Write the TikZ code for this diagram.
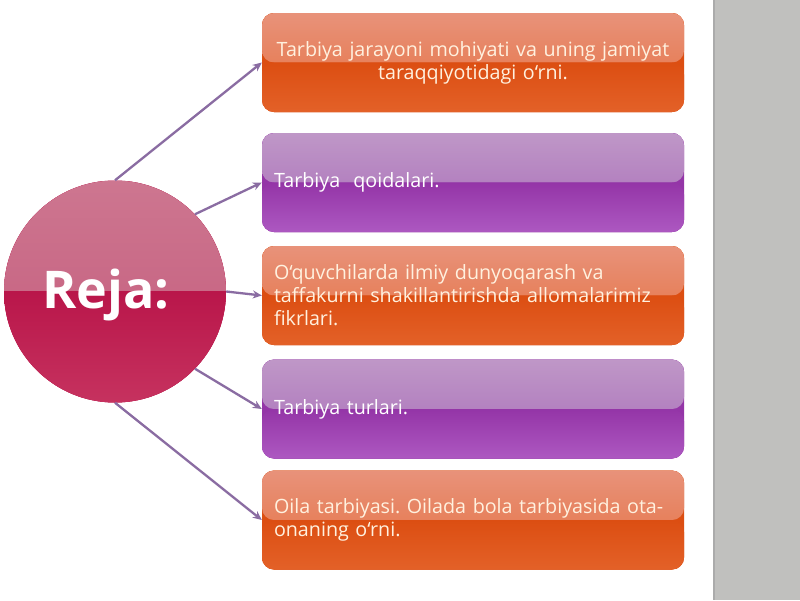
\documentclass[tikz,border=0pt]{standalone}
\usepackage{fontspec}
\setmainfont{Open Sans}
\usetikzlibrary{arrows.meta}
\definecolor{oTop}{HTML}{E8927A}
\definecolor{oMid}{HTML}{E5703F}
\definecolor{oLow}{HTML}{DC4E12}
\definecolor{oBot}{HTML}{E36128}
\definecolor{pTop}{HTML}{BF97C7}
\definecolor{pMid}{HTML}{A86CB9}
\definecolor{pLow}{HTML}{9435A7}
\definecolor{pBot}{HTML}{AD58C1}
\definecolor{cTop}{HTML}{CD7690}
\definecolor{cMid}{HTML}{C45B7B}
\definecolor{cLow}{HTML}{B9164A}
\definecolor{cBot}{HTML}{C6325F}
\definecolor{stripgray}{HTML}{C0C0BE}
\definecolor{stripedge}{HTML}{ABABAB}
\definecolor{arrowcol}{HTML}{8A6CA2}
\definecolor{otext}{HTML}{FFF1DF}
\frenchspacing
\tikzset{
  basebox/.style={rounded corners=12pt, minimum width=422pt, minimum height=99pt,
    inner sep=0pt, font=\fontsize{19.7}{23}\selectfont},
  orangebox/.style={basebox, fill=oLow, text=otext,
    path picture={
      \fill[top color=oTop, bottom color=oMid] (path picture bounding box.north west) rectangle (path picture bounding box.east);
      \fill[top color=oLow, bottom color=oBot] (path picture bounding box.west) rectangle (path picture bounding box.south east);
    }},
  purplebox/.style={basebox, fill=pLow, text=white,
    path picture={
      \fill[top color=pTop, bottom color=pMid] (path picture bounding box.north west) rectangle (path picture bounding box.east);
      \fill[top color=pLow, bottom color=pBot] (path picture bounding box.west) rectangle (path picture bounding box.south east);
    }},
  leftbox/.style={text width=398pt, align=left},
  centerbox/.style={text width=410pt, align=center},
  bigcircle/.style={circle, minimum size=222pt, inner sep=0pt, fill=cLow,
    path picture={
      \fill[top color=cTop, bottom color=cMid] (path picture bounding box.north west) rectangle (path picture bounding box.east);
      \fill[top color=cLow, bottom color=cBot] (path picture bounding box.west) rectangle (path picture bounding box.south east);
    }},
  arr/.style={draw=arrowcol, line width=2.3pt, -{Stealth[length=9pt,width=8pt]}},
}
\begin{document}
\begin{tikzpicture}[x=1pt,y=-1pt]
\useasboundingbox (0,0) rectangle (800,600);
\fill[white] (0,0) rectangle (800,600);
\fill[stripgray] (713,0) rectangle (800,600);
\draw[stripedge, line width=1.5pt] (713.75,0) -- (713.75,600);

\node[bigcircle] (c) at (115,291.5) {};
\node[text=white, font=\fontsize{52}{60}\selectfont\bfseries] (reja) at (106,295) {Reja:};

\node[orangebox, centerbox] (b1) at (473,62.5) {Tarbiya jarayoni mohiyati va uning jamiyat\\ taraqqiyotidagi o‘rni.};
\node[purplebox, leftbox] (b2) at (473,182.5) {Tarbiya\ \ qoidalari.};
\node[orangebox, leftbox] (b3) at (473,295.5) {O‘quvchilarda ilmiy dunyoqarash va\\ taffakurni shakillantirishda allomalarimiz\\ fikrlari.};
\node[purplebox, leftbox] (b4) at (473,409) {Tarbiya turlari.};
\node[orangebox, leftbox] (b5) at (473,520) {Oila tarbiyasi. Oilada bola tarbiyasida ota-\\ onaning o‘rni.};

\draw[arr] (c.90) -- (b1.west);
\draw[arr] (c.44) -- (b2.west);
\draw[arr] (c.0) -- (b3.west);
\draw[arr] (c.-44) -- (b4.west);
\draw[arr] (c.-90) -- (b5.west);
\end{tikzpicture}
\end{document}
